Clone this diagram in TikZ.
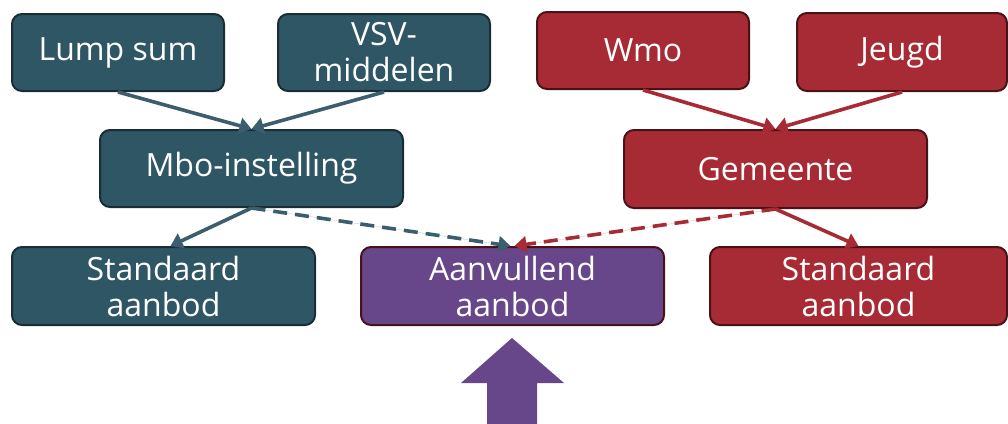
\documentclass[tikz,border=0pt]{standalone}
\usepackage{fontspec}
\setmainfont{Open Sans}
\usetikzlibrary{arrows.meta,calc}
\definecolor{tealF}{HTML}{2F5664}
\definecolor{tealD}{HTML}{1A2D35}
\definecolor{tealL}{HTML}{3A5E6E}
\definecolor{redF}{HTML}{A72B35}
\definecolor{redD}{HTML}{4A1217}
\definecolor{purF}{HTML}{67468A}
\tikzset{
  box/.style={rounded corners=10pt, line width=2pt, text=white, align=center,
    inner sep=0pt, font=\fontsize{32}{36}\selectfont},
  tbox/.style={box, fill=tealF, draw=tealD},
  rbox/.style={box, fill=redF, draw=redD},
  pbox/.style={box, fill=purF, draw=redD},
  conn/.style={line width=3.6pt, -{Triangle[width=16pt,length=12pt]}},
  tconn/.style={conn, draw=tealL, fill=tealL},
  rconn/.style={conn, draw=redF, fill=redF},
  dconn/.style={dash pattern=on 14pt off 8pt}
}
\begin{document}
\begin{tikzpicture}[x=1pt,y=-1pt]
\useasboundingbox (0,0) rectangle (1008,423);
\node[tbox, minimum width=212pt, minimum height=77pt] (lump) at (118,52.5) {Lump sum};
\node[tbox, minimum width=212pt, minimum height=77pt] (vsv) at (384,52.5) {VSV-\\middelen};
\node[tbox, minimum width=303pt, minimum height=77pt] (mbo) at (251.5,168.5) {Mbo-instelling};
\node[rbox, minimum width=212pt, minimum height=77pt] (wmo) at (643,50.5) {Wmo};
\node[rbox, minimum width=210pt, minimum height=78pt] (jeugd) at (902,52) {Jeugd};
\node[rbox, minimum width=303pt, minimum height=78pt] (gem) at (775.5,169) {Gemeente};
\node[tbox, minimum width=303pt, minimum height=78pt] (stdL) at (163.5,286) {Standaard\\aanbod};
\node[pbox, minimum width=303pt, minimum height=78pt] (aanv) at (512.5,286) {Aanvullend\\aanbod};
\node[rbox, minimum width=297pt, minimum height=78pt] (stdR) at (858.5,286) {Standaard\\aanbod};
\coordinate (stdLin) at ($(stdL.north)+(7,0)$);
\coordinate (aanvL) at ($(aanv.north)+(-2,0)$);
\coordinate (aanvR) at ($(aanv.north)+(2,0)$);
\draw[tconn] (lump.south) -- (mbo.north);
\draw[tconn] (vsv.south) -- (mbo.north);
\draw[rconn] (wmo.south) -- (gem.north);
\draw[rconn] (jeugd.south) -- (gem.north);
\draw[tconn] (mbo.south) -- (stdLin);
\draw[rconn] (gem.south) -- (stdR.north);
\draw[tconn, dconn] (mbo.south) -- (aanvL);
\draw[rconn, dconn] (gem.south) -- (aanvR);
\fill[purF] (487,424) -- (487,383) -- (461,383) -- (512,338) -- (564,383) -- (537,383) -- (537,424) -- cycle;
\end{tikzpicture}
\end{document}
